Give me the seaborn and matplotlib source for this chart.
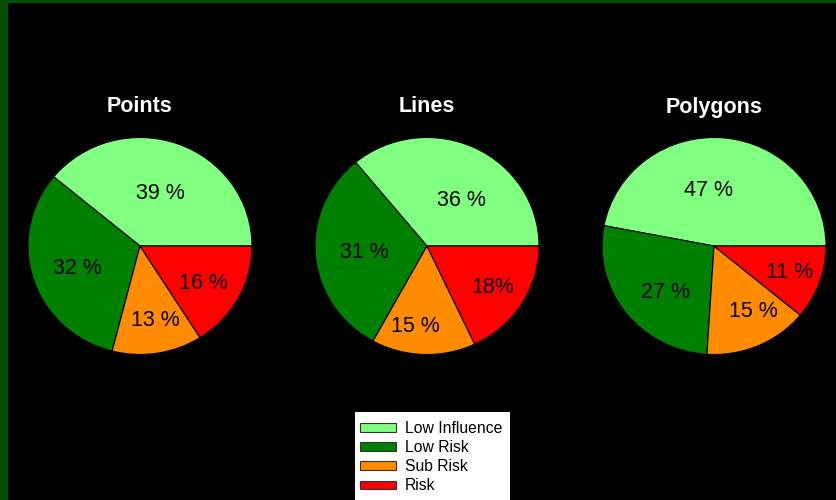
import matplotlib
matplotlib.use("Agg")
import matplotlib.pyplot as plt
import matplotlib.patches as mpatches
import numpy as np
import seaborn as sns

sns.set_theme(style="dark")
plt.rcParams['font.family'] = ['Liberation Sans', 'DejaVu Sans']

categories = ["Low Influence", "Low Risk", "Sub Risk", "Risk"]
titles = ["Points", "Lines", "Polygons"]
points_vals = [39, 32, 13, 16]
lines_vals = [36, 31, 15, 18]
polygons_vals = [47, 27, 15, 11]
points_labels = ["39 %", "32 %", "13 %", "16 %"]
lines_labels = ["36 %", "31 %", "15 %", "18%"]
polygons_labels = ["47 %", "27 %", "15 %", "11 %"]

colors = sns.color_palette(["#80FF80", "#008000", "#FF8C00", "#FF0000"])

W, H = 837, 500
fig = plt.figure(figsize=(W / 100, H / 100), dpi=100)
fig.patch.set_facecolor("#000000")

# green border strips (top and left)
fig.add_artist(mpatches.Rectangle((0, 1 - 3 / H), 1, 3 / H, transform=fig.transFigure,
                                  facecolor="#025002", edgecolor="none"))
fig.add_artist(mpatches.Rectangle((0, 0), 8 / W, 1, transform=fig.transFigure,
                                  facecolor="#025002", edgecolor="none"))

centers = [140, 427, 714]
cy = 246
RX, RY = 112, 108.5
# label placement style: radial distance and angular offset from wedge mid-angle
label_dist = [
    [0.54, 0.59, 0.68, 0.65],
    [0.54, 0.56, 0.73, 0.69],
    [0.54, 0.59, 0.68, 0.71],
]
label_off = [
    [0.0, 0.0, 2.6, -1.0],
    [-9.3, -1.6, -6.4, 1.0],
    [10.2, 5.2, 7.4, 1.5],
]
all_vals = [points_vals, lines_vals, polygons_vals]
all_labels = [points_labels, lines_labels, polygons_labels]

for i, (cx, vals, labs, title) in enumerate(zip(centers, all_vals, all_labels, titles)):
    ax = fig.add_axes([(cx - RX) / W, (H - cy - RY) / H, 2 * RX / W, 2 * RY / H])
    ax.set_facecolor("none")
    wedges, _ = ax.pie(vals, colors=colors, startangle=0, counterclock=True,
                       radius=1.0, wedgeprops=dict(edgecolor="black", linewidth=0.8))
    for w, lab, d, off in zip(wedges, labs, label_dist[i], label_off[i]):
        ang = np.deg2rad((w.theta1 + w.theta2) / 2 + off)
        ax.text(d * np.cos(ang), d * np.sin(ang) - 0.022, lab, ha="center", va="center",
                fontsize=15.5, color="black")
    ax.set_aspect("auto")
    ax.set_xlim(-1, 1)
    ax.set_ylim(-1, 1)
    ax.axis("off")
    fig.text(cx / W, 1 - 107 / H, title, ha="center", va="center",
             fontsize=15.5, fontweight="bold", color="white")

# legend box (extends past the bottom edge)
fig.add_artist(mpatches.Rectangle((355 / W, -0.02), 155 / W, 0.02 + 88 / H,
                                  transform=fig.transFigure, facecolor="white",
                                  edgecolor="none", zorder=5))
handles = [mpatches.Patch(facecolor=c, edgecolor="#333333", linewidth=0.8) for c in colors]
leg = fig.legend(handles, categories, loc="upper left",
                 bbox_to_anchor=(357 / W, 1 - 418 / H), bbox_transform=fig.transFigure,
                 fontsize=11.3, frameon=False, handlelength=2.3,
                 handleheight=0.45, handletextpad=0.55, labelspacing=0.26,
                 borderpad=0.2, borderaxespad=0)
leg.set_zorder(6)
for t in leg.get_texts():
    t.set_color("black")

fig.savefig("out.png", dpi=100, facecolor=fig.get_facecolor())
